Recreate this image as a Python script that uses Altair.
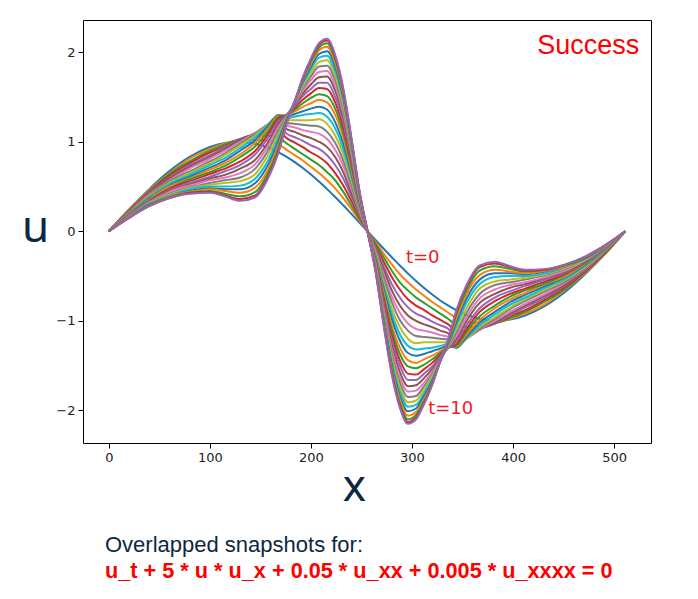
import altair as alt
import pandas as pd

# matplotlib default colour cycle, one colour per snapshot (cycling)
TAB10 = ["#1f77b4", "#ff7f0e", "#2ca02c", "#d62728", "#9467bd",
         "#8c564b", "#e377c2", "#7f7f7f", "#bcbd22", "#17becf"]

N_SNAP = 25  # snapshots t = 0 ... 10

X_POS = [0, 20, 40, 60, 80, 100, 115, 130, 145, 158, 168, 176, 184, 192, 200, 208, 216, 224, 232, 240, 248, 256,
         264, 272, 280, 288, 296, 304, 312, 320, 328, 336, 344, 354, 367, 382, 397, 412, 432, 452, 472, 492, 511]

# value of u at each x for snapshot 0 (t=0) ... snapshot 24 (t=10)
c000 = [0, 0, 0, 0, 0, 0, 0, 0, 0, 0, 0, 0, 0, 0, 0, 0, 0, 0, 0, 0, 0, 0, 0, 0, 0]
c020 = [.243, .24, .23, .23, .22, .22, .21, .21, .20, .20, .19, .19, .19, .18, .18, .17, .17, .17, .16, .16, .16, .16, .15, .15, .15]
c040 = [.471, .46, .45, .44, .43, .42, .41, .40, .39, .38, .37, .36, .35, .34, .34, .33, .32, .31, .31, .30, .30, .29, .29, .28, .28]
c060 = [.672, .65, .64, .62, .60, .59, .57, .56, .54, .53, .51, .50, .48, .47, .46, .45, .44, .42, .41, .40, .39, .39, .38, .37, .37]
c080 = [.831, .81, .78, .76, .74, .72, .70, .67, .65, .63, .61, .59, .58, .56, .54, .52, .51, .49, .48, .47, .45, .44, .43, .43, .42]
c100 = [.941, .92, .90, .88, .85, .83, .81, .78, .76, .74, .71, .69, .66, .64, .61, .59, .57, .54, .52, .50, .48, .47, .45, .44, .43]
c115 = [.987, .98, .97, .95, .94, .92, .90, .87, .85, .82, .79, .76, .73, .70, .67, .63, .60, .57, .54, .50, .47, .45, .42, .40, .39]
c130 = [1.00, 1.02, 1.03, 1.03, 1.03, 1.02, 1.00, .98, .96, .93, .90, .86, .83, .78, .74, .70, .65, .60, .56, .51, .47, .43, .39, .36, .34]
c145 = [.978, 1.02, 1.06, 1.08, 1.09, 1.10, 1.10, 1.09, 1.07, 1.05, 1.02, .99, .95, .90, .86, .80, .75, .70, .64, .59, .54, .49, .44, .40, .38]
c158 = [.933, 1.01, 1.07, 1.11, 1.15, 1.18, 1.20, 1.20, 1.20, 1.19, 1.18, 1.15, 1.12, 1.09, 1.05, 1.00, .96, .91, .86, .80, .75, .70, .66, .62, .60]
c168 = [.882, .97, 1.05, 1.12, 1.18, 1.22, 1.26, 1.28, 1.29, 1.30, 1.30, 1.29, 1.28, 1.26, 1.23, 1.20, 1.17, 1.13, 1.09, 1.05, 1.01, .97, .93, .90, .88]
c176 = [.831, .91, .98, 1.04, 1.09, 1.14, 1.18, 1.21, 1.24, 1.26, 1.28, 1.29, 1.30, 1.30, 1.30, 1.30, 1.29, 1.28, 1.27, 1.26, 1.25, 1.23, 1.22, 1.21, 1.20]
c184 = [.773, .85, .92, .99, 1.05, 1.11, 1.16, 1.20, 1.24, 1.28, 1.31, 1.34, 1.36, 1.38, 1.40, 1.42, 1.43, 1.43, 1.44, 1.45, 1.45, 1.45, 1.45, 1.45, 1.45]
c192 = [.707, .79, .86, .94, 1.01, 1.07, 1.13, 1.19, 1.24, 1.30, 1.34, 1.39, 1.43, 1.47, 1.51, 1.54, 1.57, 1.60, 1.62, 1.65, 1.67, 1.69, 1.70, 1.71, 1.72]
c200 = [.634, .72, .80, .88, .96, 1.04, 1.11, 1.18, 1.24, 1.31, 1.37, 1.43, 1.49, 1.54, 1.59, 1.64, 1.69, 1.73, 1.77, 1.81, 1.84, 1.87, 1.90, 1.92, 1.93]
c208 = [.556, .65, .74, .83, .92, 1.00, 1.09, 1.17, 1.25, 1.32, 1.39, 1.47, 1.53, 1.60, 1.66, 1.72, 1.78, 1.84, 1.89, 1.94, 1.98, 2.02, 2.05, 2.08, 2.10]
c216 = [.471, .57, .66, .76, .85, .94, 1.03, 1.11, 1.20, 1.28, 1.36, 1.44, 1.51, 1.59, 1.66, 1.73, 1.79, 1.85, 1.91, 1.96, 2.01, 2.06, 2.10, 2.13, 2.15]
c224 = [.383, .48, .57, .65, .74, .83, .91, .99, 1.07, 1.15, 1.22, 1.30, 1.37, 1.44, 1.50, 1.57, 1.63, 1.69, 1.74, 1.79, 1.84, 1.88, 1.92, 1.95, 1.97]
c232 = [.290, .37, .44, .51, .59, .66, .73, .79, .86, .92, .98, 1.05, 1.10, 1.16, 1.22, 1.27, 1.32, 1.37, 1.41, 1.46, 1.49, 1.53, 1.56, 1.58, 1.60]
c240 = [.195, .25, .29, .34, .39, .43, .48, .52, .57, .61, .65, .69, .73, .76, .80, .83, .87, .90, .93, .96, .98, 1.00, 1.02, 1.04, 1.05]
c248 = [.098, .12, .14, .16, .18, .20, .22, .23, .25, .27, .29, .30, .32, .33, .35, .36, .37, .39, .40, .41, .42, .43, .44, .45, .45]
c256 = [0, 0, 0, 0, 0, 0, 0, 0, 0, 0, 0, 0, 0, 0, 0, 0, 0, 0, 0, 0, 0, 0, 0, 0, 0]
c264 = [-.098, -.12, -.14, -.16, -.18, -.20, -.22, -.23, -.25, -.27, -.29, -.30, -.32, -.33, -.35, -.36, -.37, -.39, -.40, -.41, -.42, -.43, -.44, -.45, -.45]
c272 = [-.195, -.25, -.29, -.34, -.39, -.43, -.48, -.52, -.57, -.61, -.65, -.69, -.73, -.76, -.80, -.83, -.87, -.90, -.93, -.96, -.98, -1.00, -1.02, -1.04, -1.05]
c280 = [-.290, -.37, -.44, -.51, -.59, -.66, -.73, -.79, -.86, -.92, -.98, -1.05, -1.10, -1.16, -1.22, -1.27, -1.32, -1.37, -1.41, -1.46, -1.49, -1.53, -1.56, -1.58, -1.60]
c288 = [-.383, -.48, -.57, -.65, -.74, -.83, -.91, -.99, -1.07, -1.15, -1.22, -1.30, -1.37, -1.44, -1.50, -1.57, -1.63, -1.69, -1.74, -1.79, -1.84, -1.88, -1.92, -1.95, -1.97]
c296 = [-.471, -.57, -.66, -.76, -.85, -.94, -1.03, -1.11, -1.20, -1.28, -1.36, -1.44, -1.51, -1.59, -1.66, -1.73, -1.79, -1.85, -1.91, -1.96, -2.01, -2.06, -2.10, -2.13, -2.15]
c304 = [-.556, -.65, -.74, -.83, -.92, -1.00, -1.09, -1.17, -1.25, -1.32, -1.39, -1.47, -1.53, -1.60, -1.66, -1.72, -1.78, -1.84, -1.89, -1.94, -1.98, -2.02, -2.05, -2.08, -2.10]
c312 = [-.634, -.72, -.80, -.88, -.96, -1.04, -1.11, -1.18, -1.24, -1.31, -1.37, -1.43, -1.49, -1.54, -1.59, -1.64, -1.69, -1.73, -1.77, -1.81, -1.84, -1.87, -1.90, -1.92, -1.93]
c320 = [-.707, -.79, -.86, -.94, -1.01, -1.07, -1.13, -1.19, -1.24, -1.30, -1.34, -1.39, -1.43, -1.47, -1.51, -1.54, -1.57, -1.60, -1.62, -1.65, -1.67, -1.69, -1.70, -1.71, -1.72]
c328 = [-.773, -.85, -.92, -.99, -1.05, -1.11, -1.16, -1.20, -1.24, -1.28, -1.31, -1.34, -1.36, -1.38, -1.40, -1.42, -1.43, -1.43, -1.44, -1.45, -1.45, -1.45, -1.45, -1.45, -1.45]
c336 = [-.831, -.91, -.98, -1.04, -1.09, -1.14, -1.18, -1.21, -1.24, -1.26, -1.28, -1.29, -1.30, -1.30, -1.30, -1.30, -1.29, -1.28, -1.27, -1.26, -1.25, -1.23, -1.22, -1.21, -1.20]
c344 = [-.882, -.97, -1.05, -1.12, -1.18, -1.22, -1.26, -1.28, -1.29, -1.30, -1.30, -1.29, -1.28, -1.26, -1.23, -1.20, -1.17, -1.13, -1.09, -1.05, -1.01, -.97, -.93, -.90, -.88]
c354 = [-.933, -1.01, -1.07, -1.11, -1.15, -1.18, -1.20, -1.20, -1.20, -1.19, -1.18, -1.15, -1.12, -1.09, -1.05, -1.00, -.96, -.91, -.86, -.80, -.75, -.70, -.66, -.62, -.60]
c367 = [-.978, -1.02, -1.06, -1.08, -1.09, -1.10, -1.10, -1.09, -1.07, -1.05, -1.02, -.99, -.95, -.90, -.86, -.80, -.75, -.70, -.64, -.59, -.54, -.49, -.44, -.40, -.38]
c382 = [-1.00, -1.02, -1.03, -1.03, -1.03, -1.02, -1.00, -.98, -.96, -.93, -.90, -.86, -.83, -.78, -.74, -.70, -.65, -.60, -.56, -.51, -.47, -.43, -.39, -.36, -.34]
c397 = [-.987, -.98, -.97, -.95, -.94, -.92, -.90, -.87, -.85, -.82, -.79, -.76, -.73, -.70, -.67, -.63, -.60, -.57, -.54, -.50, -.47, -.45, -.42, -.40, -.39]
c412 = [-.941, -.92, -.90, -.88, -.85, -.83, -.81, -.78, -.76, -.74, -.71, -.69, -.66, -.64, -.61, -.59, -.57, -.54, -.52, -.50, -.48, -.47, -.45, -.44, -.43]
c432 = [-.831, -.81, -.78, -.76, -.74, -.72, -.70, -.67, -.65, -.63, -.61, -.59, -.58, -.56, -.54, -.52, -.51, -.49, -.48, -.47, -.45, -.44, -.43, -.43, -.42]
c452 = [-.672, -.65, -.64, -.62, -.60, -.59, -.57, -.56, -.54, -.53, -.51, -.50, -.48, -.47, -.46, -.45, -.44, -.42, -.41, -.40, -.39, -.39, -.38, -.37, -.37]
c472 = [-.471, -.46, -.45, -.44, -.43, -.42, -.41, -.40, -.39, -.38, -.37, -.36, -.35, -.34, -.34, -.33, -.32, -.31, -.31, -.30, -.30, -.29, -.29, -.28, -.28]
c492 = [-.243, -.24, -.23, -.23, -.22, -.22, -.21, -.21, -.20, -.20, -.19, -.19, -.19, -.18, -.18, -.17, -.17, -.17, -.16, -.16, -.16, -.16, -.15, -.15, -.15]
c511 = [0, 0, 0, 0, 0, 0, 0, 0, 0, 0, 0, 0, 0, 0, 0, 0, 0, 0, 0, 0, 0, 0, 0, 0, 0]

COLUMNS = [c000, c020, c040, c060, c080, c100, c115, c130, c145, c158, c168, c176, c184, c192, c200, c208,
           c216, c224, c232, c240, c248, c256, c264, c272, c280, c288, c296, c304, c312, c320, c328, c336,
           c344, c354, c367, c382, c397, c412, c432, c452, c472, c492, c511]

X_TICKS = [0, 100, 200, 300, 400, 500]
Y_TICKS = [-2, -1, 0, 1, 2]

# annotation texts (placed in data coordinates)
NOTE_LABELS = ["t=0", "t=10"]
NOTE_X = [294, 316]
NOTE_U = [-0.35, -2.04]
SUCCESS_X = [525]
SUCCESS_U = [1.98]

rows = []
for xi, col in zip(X_POS, COLUMNS):
    for k, v in enumerate(col):
        rows.append({"x": xi, "u": v, "snap": f"s{k:02d}"})
df = pd.DataFrame(rows)

snap_names = [f"s{k:02d}" for k in range(N_SNAP)]
snap_colors = [TAB10[k % 10] for k in range(N_SNAP)]

xscale = alt.Scale(domain=[-25.5, 536.5], nice=False, zero=False)
yscale = alt.Scale(domain=[-2.365, 2.36], nice=False, zero=False)

NAVY = "#0e2841"
RED = "#ff0000"

lines = alt.Chart(df).mark_line(strokeWidth=2, interpolate="monotone", clip=True).encode(
    x=alt.X("x:Q", scale=xscale,
            axis=alt.Axis(values=X_TICKS, format="d", title="x", titleFontSize=44, titleFont="Noto Sans",
                          titleFontWeight="normal", titleColor=NAVY, titleX=271, titleY=57,
                          titleBaseline="alphabetic", titleAlign="center")),
    y=alt.Y("u:Q", scale=yscale,
            axis=alt.Axis(values=Y_TICKS, format="d", title="u", titleFontSize=44, titleFont="Noto Sans",
                          titleFontWeight="normal", titleColor=NAVY, titleAngle=0, titleX=-48,
                          titleY=221, titleBaseline="alphabetic", titleAlign="center")),
    color=alt.Color("snap:N", scale=alt.Scale(domain=snap_names, range=snap_colors), legend=None),
    order=alt.Order("x:Q"),
)

notes_df = pd.DataFrame({"x": NOTE_X, "u": NOTE_U, "label": NOTE_LABELS})
notes = alt.Chart(notes_df).mark_text(align="left", baseline="alphabetic", fontSize=18,
                                      font="DejaVu Sans", color="#ee1c25").encode(
    x=alt.X("x:Q", scale=xscale), y=alt.Y("u:Q", scale=yscale), text="label:N")

success_df = pd.DataFrame({"x": SUCCESS_X, "u": SUCCESS_U, "label": ["Success"]})
success = alt.Chart(success_df).mark_text(align="right", baseline="alphabetic", fontSize=27,
                                          font="Liberation Sans", color=RED).encode(
    x=alt.X("x:Q", scale=xscale), y=alt.Y("u:Q", scale=yscale), text="label:N")

chart = alt.layer(lines, notes, success).properties(
    width=568, height=423,
    autosize=alt.AutoSizeParams(type="none"),
    padding={"left": 75, "top": 12, "right": 24, "bottom": 140},
    title=alt.TitleParams(
        text="Overlapped snapshots for:",
        subtitle="u_t + 5 * u * u_x + 0.05 * u_xx + 0.005 * u_xxxx = 0",
        orient="bottom", anchor="start", frame="group", dx=22, offset=26,
        font="Liberation Sans", fontSize=22, fontWeight="normal", color=NAVY,
        subtitleFont="Liberation Sans", subtitleFontSize=21.7, subtitleFontWeight="bold",
        subtitleColor=RED, subtitlePadding=4),
).configure_view(stroke="black", strokeWidth=1).configure_axis(
    grid=False, domain=False, tickColor="black", tickSize=5, tickWidth=1,
    labelFont="DejaVu Sans", labelFontSize=13, labelColor="#222222", labelPadding=3,
)

chart.save("out.html", embed_options={"renderer": "svg", "actions": False})
